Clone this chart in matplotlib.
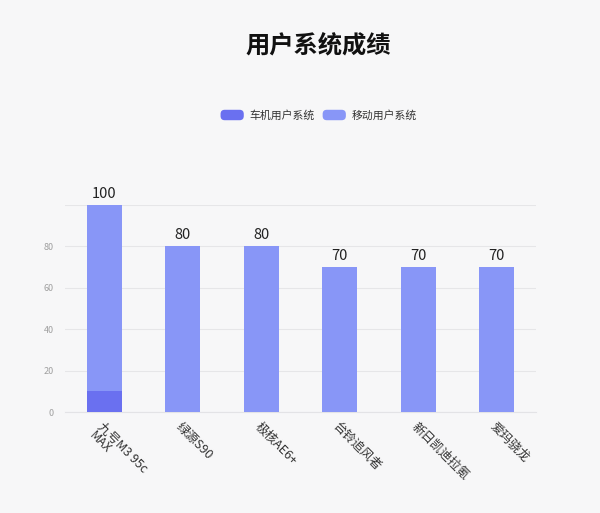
import matplotlib
matplotlib.use("Agg")
import matplotlib.pyplot as plt
from matplotlib.patches import FancyBboxPatch
from matplotlib.legend_handler import HandlerPatch
import numpy as np

plt.rcParams['font.family'] = ['Noto Sans CJK SC', 'DejaVu Sans']

models = ["九号M3 95c\nMAX", "绿源S90", "极核AE6+", "台铃追风者", "新日凯迪拉氪", "爱玛骁龙"]
car_sys = [10, 0, 0, 0, 0, 0]
mobile_sys = [90, 80, 80, 70, 70, 70]
series_names = ["车机用户系统", "移动用户系统"]
yticks = [0, 20, 40, 60, 80, 100]


class RoundBox(HandlerPatch):
    # rounded legend swatch
    def create_artists(self, legend, orig_handle, xdescent, ydescent, width, height, fontsize, trans):
        p = FancyBboxPatch((-xdescent + 1, -ydescent + 1), width - 2, height - 2,
                           boxstyle="round,pad=0,rounding_size=3",
                           facecolor=orig_handle.get_facecolor(), edgecolor="none",
                           transform=trans)
        return [p]


bg = "#f7f7f8"
fig = plt.figure(figsize=(6, 5.13), dpi=100, facecolor=bg)
ax = fig.add_axes([65/600, 1-412/513, (536-65)/600, (412-205)/513], facecolor=bg)

x = np.arange(len(models))
car = np.array(car_sys)
mob = np.array(mobile_sys)
b1 = ax.bar(x, car, width=0.45, color="#6a70f0", label=series_names[0], zorder=3)
b2 = ax.bar(x, mob, width=0.45, bottom=car, color="#8896f7", label=series_names[1], zorder=3)

totals = car + mob
for xi, t in zip(x, totals):
    ax.text(xi, t + 2, str(t), ha="center", va="bottom", fontsize=10.5, color="#222222")

ax.set_xlim(-0.5, len(models) - 0.5)
ax.set_ylim(0, 100)
ax.set_yticks(yticks)
ax.set_yticklabels([str(v) if v < 100 else "" for v in yticks], fontsize=6.5, color="#a0a0a0")
ax.yaxis.grid(True, color="#e6e6e8", linewidth=0.8, zorder=0)
ax.tick_params(axis="both", length=0)
ax.tick_params(axis="y", pad=8)
ax.set_xticks(x)
ax.set_xticklabels(models, rotation=-45, ha="left", va="top", rotation_mode="anchor",
                   fontsize=9, color="#333333", linespacing=0.85)
ax.tick_params(axis="x", pad=6)
for s in ["top", "right", "left"]:
    ax.spines[s].set_visible(False)
ax.spines["bottom"].set_color("#e3e3e6")

fig.text(318/600, 1-45/513, "用户系统成绩", ha="center", va="center",
         fontsize=17.5, fontweight="bold", color="#111111")

h1, h2 = b1.patches[0], b2.patches[0]
fig.legend(handles=[h1, h2], labels=series_names, loc="center",
           bbox_to_anchor=(318/600, 1-115/513), ncol=2, frameon=False,
           fontsize=7.8, handlelength=2.4, handleheight=1.5, handletextpad=0.4,
           columnspacing=0.6, labelcolor="#333333",
           handler_map={h1: RoundBox(), h2: RoundBox()})

fig.savefig("out.png", dpi=100, facecolor=bg)
